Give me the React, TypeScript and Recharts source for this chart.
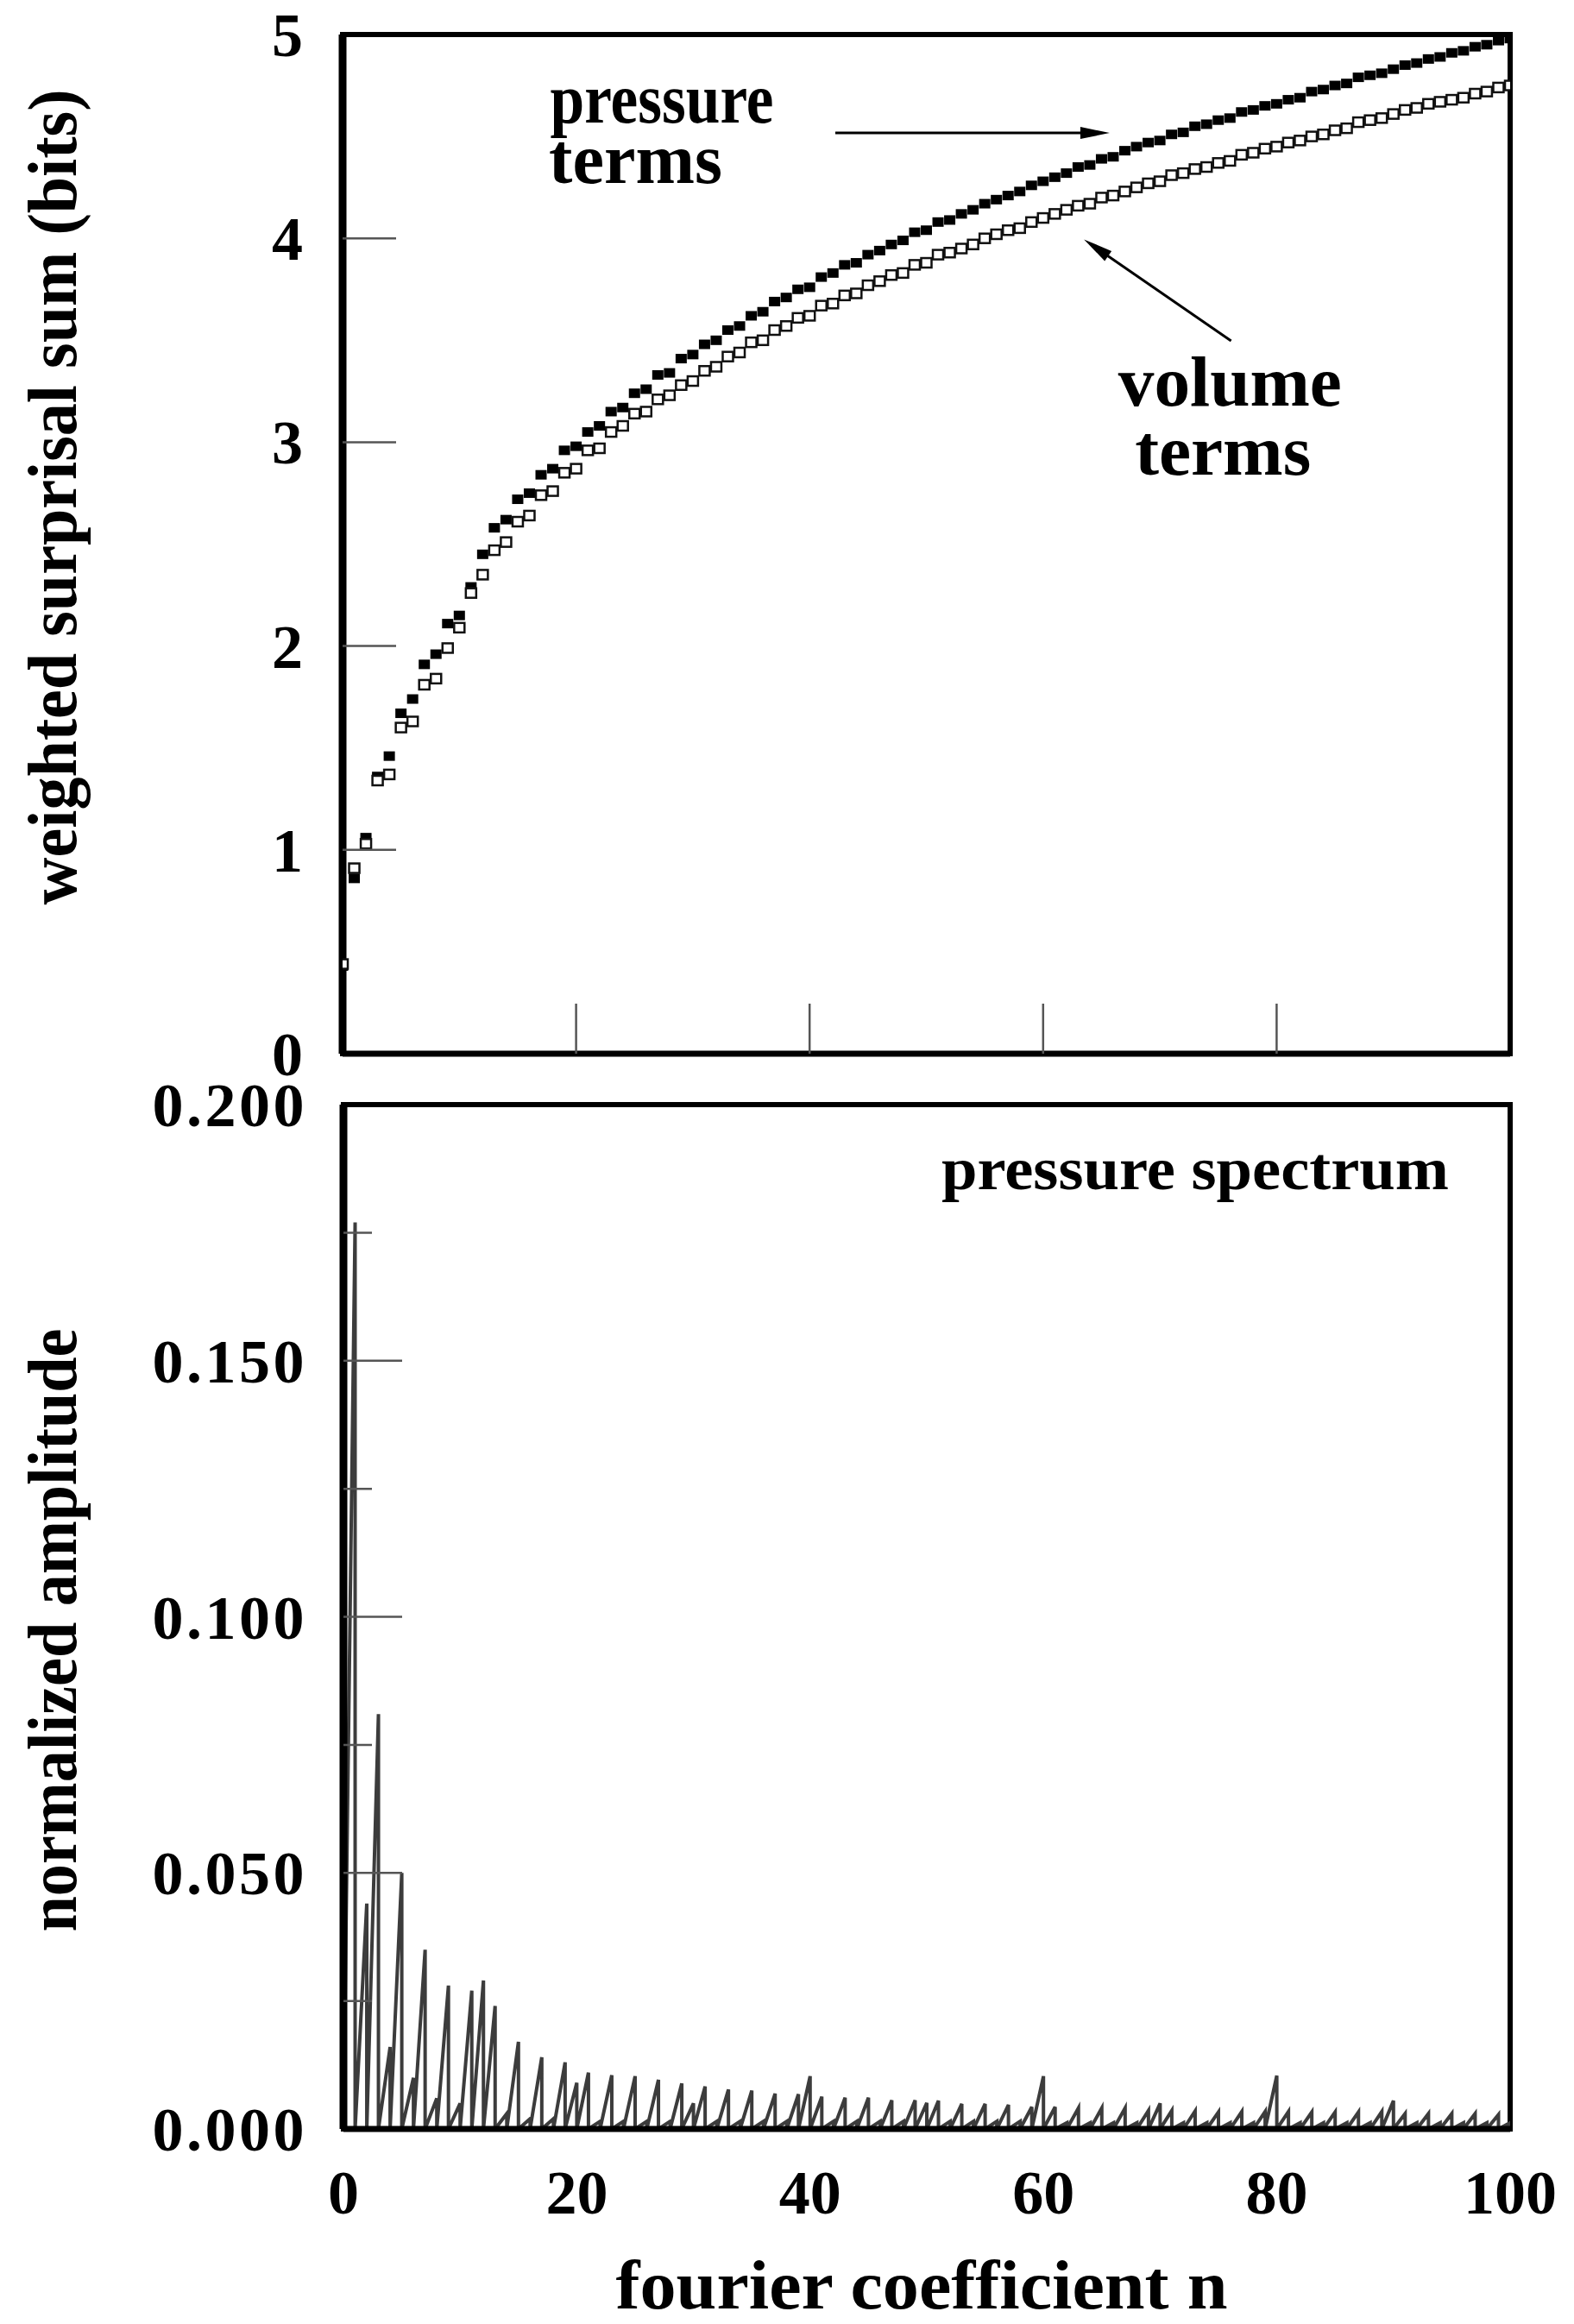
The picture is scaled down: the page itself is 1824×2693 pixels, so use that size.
import React from 'react';
import {
  ComposedChart,
  Scatter,
  Line,
  XAxis,
  YAxis,
  ReferenceArea,
  ReferenceLine,
  ReferenceDot,
} from 'recharts';

// ---------- data ----------
const coeffN = [
  0, 1, 2, 3, 4, 5, 6, 7, 8, 9, 10, 11, 12, 13, 14, 15, 16, 17, 18, 19, 20,
  21, 22, 23, 24, 25, 26, 27, 28, 29, 30, 31, 32, 33, 34, 35, 36, 37, 38, 39, 40,
  41, 42, 43, 44, 45, 46, 47, 48, 49, 50, 51, 52, 53, 54, 55, 56, 57, 58, 59, 60,
  61, 62, 63, 64, 65, 66, 67, 68, 69, 70, 71, 72, 73, 74, 75, 76, 77, 78, 79, 80,
  81, 82, 83, 84, 85, 86, 87, 88, 89, 90, 91, 92, 93, 94, 95, 96, 97, 98, 99, 100,
];

const pressureTerms = [
  0.43, 0.86, 1.06, 1.36, 1.46, 1.67, 1.74, 1.91, 1.96, 2.11, 2.15,
  2.29, 2.45, 2.58, 2.62, 2.72, 2.75, 2.84, 2.87, 2.96, 2.98,
  3.05, 3.08, 3.15, 3.17, 3.24, 3.26, 3.33, 3.34, 3.41, 3.43,
  3.48, 3.5, 3.55, 3.57, 3.62, 3.64, 3.69, 3.71, 3.75, 3.76,
  3.81, 3.83, 3.87, 3.88, 3.92, 3.94, 3.97, 3.99, 4.03, 4.04,
  4.08, 4.09, 4.12, 4.14, 4.17, 4.19, 4.21, 4.23, 4.26, 4.28,
  4.3, 4.32, 4.35, 4.36, 4.39, 4.4, 4.43, 4.45, 4.47, 4.48,
  4.51, 4.52, 4.55, 4.56, 4.58, 4.59, 4.62, 4.63, 4.65, 4.66,
  4.68, 4.69, 4.72, 4.73, 4.75, 4.76, 4.79, 4.8, 4.81, 4.83,
  4.85, 4.86, 4.88, 4.89, 4.91, 4.92, 4.94, 4.95, 4.97, 4.98,
];

const volumeTerms = [
  0.44, 0.91, 1.03, 1.34, 1.37, 1.6, 1.63, 1.81, 1.84, 1.99, 2.09,
  2.26, 2.35, 2.47, 2.51, 2.61, 2.64, 2.74, 2.76, 2.85, 2.87,
  2.96, 2.97, 3.05, 3.08, 3.14, 3.15, 3.21, 3.23, 3.28, 3.3,
  3.35, 3.37, 3.42, 3.44, 3.49, 3.5, 3.55, 3.57, 3.61, 3.62,
  3.67, 3.68, 3.72, 3.73, 3.77, 3.79, 3.82, 3.83, 3.87, 3.88,
  3.92, 3.93, 3.95, 3.97, 4.0, 4.02, 4.04, 4.05, 4.08, 4.1,
  4.12, 4.14, 4.16, 4.17, 4.2, 4.21, 4.23, 4.25, 4.27, 4.28,
  4.31, 4.32, 4.34, 4.35, 4.37, 4.38, 4.41, 4.42, 4.44, 4.45,
  4.47, 4.48, 4.5, 4.51, 4.53, 4.54, 4.57, 4.58, 4.59, 4.61,
  4.63, 4.64, 4.66, 4.67, 4.68, 4.69, 4.71, 4.72, 4.74, 4.75,
];

const spectrumAmp = [
  0.15, 0.177, 0.044, 0.081, 0.016, 0.05, 0.01, 0.035, 0.006, 0.028, 0.005,
  0.027, 0.029, 0.024, 0.003, 0.017, 0.002, 0.014, 0.002, 0.013, 0.009,
  0.011, 0.0015, 0.0105, 0.0015, 0.0103, 0.0015, 0.0096, 0.0015, 0.0089, 0.005,
  0.0083, 0.0015, 0.0077, 0.0015, 0.0075, 0.0015, 0.0069, 0.0015, 0.0068, 0.0103,
  0.0063, 0.0015, 0.0061, 0.0015, 0.0061, 0.0015, 0.0056, 0.0015, 0.0056, 0.0051,
  0.0055, 0.0015, 0.0049, 0.0015, 0.0049, 0.0015, 0.0047, 0.0015, 0.0043, 0.0103,
  0.0043, 0.0012, 0.0041, 0.0012, 0.0041, 0.0012, 0.0041, 0.0012, 0.0036, 0.005,
  0.0036, 0.0012, 0.0035, 0.0012, 0.0033, 0.0012, 0.0034, 0.0012, 0.0034, 0.0104,
  0.0034, 0.0012, 0.0033, 0.0012, 0.0033, 0.0012, 0.0033, 0.0012, 0.0034, 0.0055,
  0.003, 0.0012, 0.003, 0.0012, 0.003, 0.0012, 0.003, 0.0012, 0.0028, 0.0012,
];

const topYTicks = [0, 1, 2, 3, 4, 5];
const topXTicks = [20, 40, 60, 80];
const bottomYTicks = [0, 0.025, 0.05, 0.075, 0.1, 0.125, 0.15, 0.175, 0.2];
const bottomXTicks = [0, 20, 40, 60, 80, 100];

const topData = coeffN.map((n, i) => ({ n, p: pressureTerms[i], v: volumeTerms[i] }));
// each coefficient: rise to its amplitude, then a vertical drop back to zero
const specData = coeffN.flatMap((n, i) => [
  { n, amp: spectrumAmp[i] },
  { n, amp: 0 },
]);

// ---------- styles ----------
const FONT = "'Liberation Serif', 'Times New Roman', Times, serif";
const TICK_STROKE = '#555';

const TopYTick = (props: any) => {
  const { x, y, payload } = props;
  const v = payload.value;
  return (
    <g>
      {v > 0 && v < 5 && (
        <line x1={x} x2={x + 62} y1={y} y2={y} stroke={TICK_STROKE} strokeWidth={2.5} />
      )}
      <text x={x - 46} y={y + 25} textAnchor="end" fontSize={72} fontWeight="bold" fontFamily={FONT} fill="#000">
        {v}
      </text>
    </g>
  );
};

const TopXTick = (props: any) => {
  const { x, y } = props;
  return <line x1={x} x2={x} y1={y} y2={y - 58} stroke={TICK_STROKE} strokeWidth={2.5} />;
};

const BottomYTick = (props: any) => {
  const { x, y, payload } = props;
  const v = payload.value;
  const major = Math.abs(Math.round(v * 1000) % 50) === 0;
  return (
    <g>
      {v > 0 && v < 0.2 && (
        <line x1={x} x2={x + (major ? 68 : 33)} y1={y} y2={y} stroke={TICK_STROKE} strokeWidth={2.5} />
      )}
      {major && (
        <text
          x={x - 42}
          y={y + 25}
          textAnchor="end"
          fontSize={72}
          fontWeight="bold"
          fontFamily={FONT}
          fill="#000"
          letterSpacing={3.5}
        >
          {v.toFixed(3)}
        </text>
      )}
    </g>
  );
};

const BottomXTick = (props: any) => {
  const { x, y, payload } = props;
  return (
    <text x={x} y={y + 98} textAnchor="middle" fontSize={72} fontWeight="bold" fontFamily={FONT} fill="#000">
      {payload.value}
    </text>
  );
};

const FilledSquare = (props: any) => {
  const { cx, cy } = props;
  if (cx == null || cy == null) return null;
  return <rect x={cx - 6.5} y={cy - 5.5} width={13} height={11} fill="#000" />;
};

const OpenSquare = (props: any) => {
  const { cx, cy } = props;
  if (cx == null || cy == null) return null;
  return <rect x={cx - 6} y={cy - 5.5} width={12} height={11} fill="#fff" stroke="#111" strokeWidth={2.5} />;
};

const Arrow = (props: any) => {
  const { x1, y1, x2, y2 } = props;
  const dx = x2 - x1;
  const dy = y2 - y1;
  const L = Math.hypot(dx, dy) || 1;
  const ux = dx / L;
  const uy = dy / L;
  const hl = 34;
  const hw = 7;
  const bx = x2 - ux * hl;
  const by = y2 - uy * hl;
  return (
    <g>
      <line x1={x1} y1={y1} x2={bx + ux * 4} y2={by + uy * 4} stroke="#000" strokeWidth={3} />
      <polygon
        points={`${x2},${y2} ${bx - uy * hw},${by + ux * hw} ${bx + uy * hw},${by - ux * hw}`}
        fill="#000"
      />
    </g>
  );
};

const textShape = (label: string, width: number, size: number) => (props: any) => {
  const { cx, cy } = props;
  if (cx == null || cy == null) return null;
  return (
    <text
      x={cx}
      y={cy}
      textAnchor="middle"
      fontSize={size}
      fontWeight="bold"
      fontFamily={FONT}
      fill="#000"
      textLength={width}
      lengthAdjust="spacingAndGlyphs"
    >
      {label}
    </text>
  );
};

const yTitle = (label: string, dy: number, len: number) => (props: any) => {
  const vb = props.viewBox || {};
  const bx = 88;
  const cy = (vb.y || 0) + dy;
  return (
    <text
      x={bx}
      y={cy}
      transform={`rotate(-90, ${bx}, ${cy})`}
      textAnchor="middle"
      fontSize={80}
      fontWeight="bold"
      fontFamily={FONT}
      fill="#000"
      textLength={len}
      lengthAdjust="spacingAndGlyphs"
    >
      {label}
    </text>
  );
};

const xTitle = (props: any) => {
  const vb = props.viewBox || {};
  return (
    <text
      x={1068}
      y={(vb.y || 0) + 208}
      textAnchor="middle"
      fontSize={80}
      fontWeight="bold"
      fontFamily={FONT}
      fill="#000"
      textLength={709}
      lengthAdjust="spacingAndGlyphs"
    >
      fourier coefficient n
    </text>
  );
};

export default function App() {
  return (
    <div
      style={{
        position: 'absolute',
        left: 0,
        top: 0,
        width: 1824,
        height: 2693,
        background: '#fff',
        overflow: 'hidden',
      }}
    >
      {/* upper panel */}
      <div style={{ position: 'absolute', left: 0, top: 0 }}>
        <ComposedChart
          width={1824}
          height={1300}
          data={topData}
          margin={{ top: 40, right: 74, bottom: 78, left: 0 }}
        >
          <ReferenceArea x1={0} x2={100} y1={0} y2={5} fill="none" fillOpacity={0} stroke="#000" strokeWidth={6} />
          <XAxis
            dataKey="n"
            type="number"
            domain={[0, 100]}
            ticks={topXTicks}
            interval={0}
            height={1}
            tickSize={0}
            tickMargin={0}
            tickLine={false}
            tick={TopXTick}
            axisLine={{ stroke: '#000', strokeWidth: 7 }}
            allowDataOverflow
          />
          <YAxis
            type="number"
            domain={[0, 5]}
            ticks={topYTicks}
            interval={0}
            width={397}
            tickSize={0}
            tickMargin={0}
            tickLine={false}
            tick={TopYTick}
            axisLine={{ stroke: '#000', strokeWidth: 9 }}
            allowDataOverflow
            label={yTitle('weighted surprisal sum (bits)', 536, 945)}
          />
          <Scatter dataKey="p" shape={FilledSquare} isAnimationActive={false} />
          <Scatter dataKey="v" shape={OpenSquare} isAnimationActive={false} />
          <ReferenceLine
            segment={[{ x: 42.2, y: 4.517 }, { x: 65.7, y: 4.517 }]}
            shape={Arrow}
            stroke="#000"
          />
          <ReferenceLine
            segment={[{ x: 76.1, y: 3.497 }, { x: 63.5, y: 3.995 }]}
            shape={Arrow}
            stroke="#000"
          />
          <ReferenceDot x={27.35} y={4.57} r={0} shape={textShape('pressure', 259, 82)} />
          <ReferenceDot x={25.1} y={4.27} r={0} shape={textShape('terms', 201, 82)} />
          <ReferenceDot x={76.0} y={3.18} r={0} shape={textShape('volume', 259, 82)} />
          <ReferenceDot x={75.4} y={2.841} r={0} shape={textShape('terms', 204, 82)} />
        </ComposedChart>
      </div>

      {/* lower panel */}
      <div style={{ position: 'absolute', left: 0, top: 1220 }}>
        <ComposedChart
          width={1824}
          height={1473}
          data={specData}
          margin={{ top: 60, right: 74, bottom: 0, left: 0 }}
        >
          <ReferenceArea x1={0} x2={100} y1={0} y2={0.2} fill="none" fillOpacity={0} stroke="#000" strokeWidth={6} />
          <XAxis
            dataKey="n"
            type="number"
            domain={[0, 100]}
            ticks={bottomXTicks}
            interval={0}
            height={226}
            tickSize={0}
            tickMargin={0}
            tickLine={false}
            tick={BottomXTick}
            axisLine={{ stroke: '#000', strokeWidth: 7 }}
            allowDataOverflow
            label={xTitle}
          />
          <YAxis
            type="number"
            domain={[0, 0.2]}
            ticks={bottomYTicks}
            interval={0}
            width={398}
            tickSize={0}
            tickMargin={0}
            tickLine={false}
            tick={BottomYTick}
            axisLine={{ stroke: '#000', strokeWidth: 9 }}
            allowDataOverflow
            label={yTitle('normalized amplitude', 609, 699)}
          />
          <Line
            dataKey="amp"
            type="linear"
            stroke="#3c3c3c"
            strokeWidth={4}
            dot={false}
            activeDot={false}
            isAnimationActive={false}
          />
          <ReferenceDot x={73.0} y={0.1835} r={0} shape={textShape('pressure spectrum', 588, 70)} />
        </ComposedChart>
      </div>
    </div>
  );
}
